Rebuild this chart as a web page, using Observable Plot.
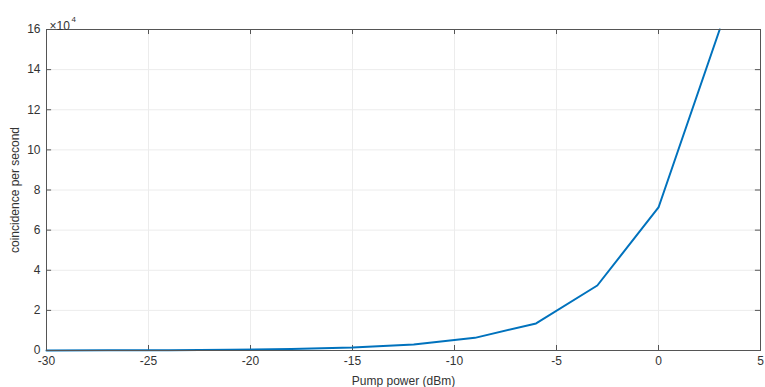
<!DOCTYPE html>
<html>
<head>
<meta charset="utf-8">
<script src="https://cdn.jsdelivr.net/npm/d3@7"></script>
<script src="https://cdn.jsdelivr.net/npm/@observablehq/plot@0.6"></script>
<style>
  html, body { margin: 0; padding: 0; background: #fff; }
  #chart { width: 765px; height: 387px; }
</style>
</head>
<body>
<div id="chart"></div>
<script>
const pumpPower = [-30, -27, -24, -21, -18, -15, -12, -9, -6, -3, 0, 3];
const coincidences = [0.004, 0.008, 0.017, 0.035, 0.07, 0.15, 0.3, 0.63, 1.35, 3.24, 7.13, 16]; // ×10^4
const xTicks = [-30, -25, -20, -15, -10, -5, 0, 5];
const yTicks = [0, 2, 4, 6, 8, 10, 12, 14, 16];

const data = pumpPower.map((x, i) => ({x, y: coincidences[i]}));
const font = "Liberation Sans, Arial, Helvetica, sans-serif";
const axisColor = "#555";

const chart = Plot.plot({
  width: 765,
  height: 387,
  marginLeft: 46,
  marginRight: 5,
  marginTop: 29,
  marginBottom: 37,
  style: {fontFamily: font, fontSize: "12px", color: "#333", background: "#fff"},
  x: {domain: [-30, 5], ticks: xTicks, tickSize: 0, tickPadding: 6, tickFormat: d => d, label: "Pump power (dBm)", labelAnchor: "center", labelArrow: "none", labelOffset: 34},
  y: {domain: [0, 16], ticks: yTicks, tickSize: 0, tickPadding: 6, tickFormat: d => d, label: "coincidence per second", labelAnchor: "center", labelArrow: "none", labelOffset: 36},
  marks: [
    Plot.gridX(xTicks, {stroke: "#ececec", strokeOpacity: 1}),
    Plot.gridY(yTicks, {stroke: "#ececec", strokeOpacity: 1}),
    Plot.ruleX(xTicks, {y1: 0, y2: 0.25, stroke: axisColor}),
    Plot.ruleX(xTicks, {y1: 16, y2: 15.75, stroke: axisColor}),
    Plot.ruleY(yTicks, {x1: -30, x2: -29.75, stroke: axisColor}),
    Plot.ruleY(yTicks, {x1: 5, x2: 4.75, stroke: axisColor}),
    Plot.line(data, {x: "x", y: "y", stroke: "#0072BD", strokeWidth: 2}),
    Plot.frame({stroke: axisColor}),
    Plot.text(["×10"], {frameAnchor: "top-left", dy: -8, dx: 3, textAnchor: "start", fontSize: 12, fill: "#333"}),
    Plot.text(["4"], {frameAnchor: "top-left", dy: -13, dx: 25, textAnchor: "start", fontSize: 8, fill: "#333"})
  ]
});
document.getElementById("chart").appendChild(chart);
</script>
</body>
</html>
